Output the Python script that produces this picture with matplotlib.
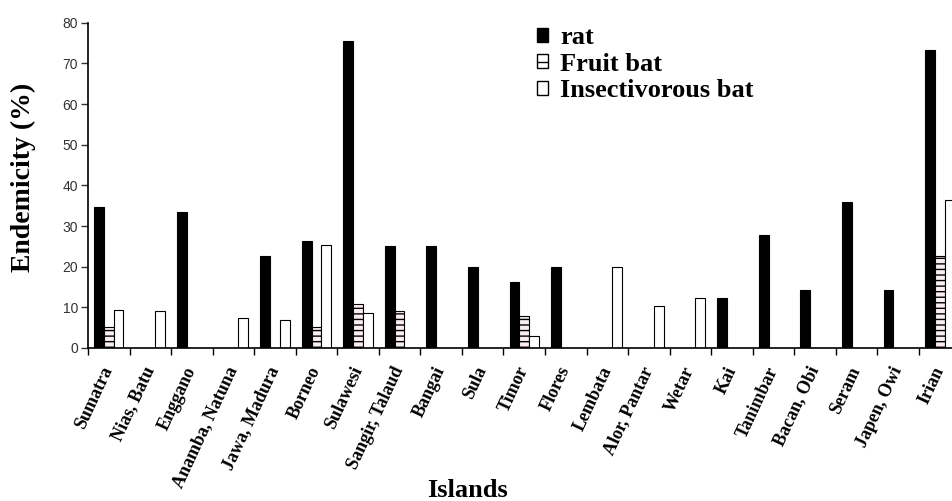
import numpy as np
import matplotlib.pyplot as plt
from matplotlib.patches import Patch

# data
islands = ['Sumatra', 'Nias, Batu', 'Enggano', 'Anamba, Natuna', 'Jawa, Madura',
           'Borneo', 'Sulawesi', 'Sangir, Talaud', 'Bangai', 'Sula', 'Timor',
           'Flores', 'Lembata', 'Alor, Pantar', 'Wetar', 'Kai', 'Tanimbar',
           'Bacan, Obi', 'Seram', 'Japen, Owi', 'Irian']
rat = [34.7, 0, 33.5, 0, 22.7, 26.2, 75.4, 25.2, 25.2, 19.8, 16.3,
       19.8, 0, 0, 0, 12.4, 27.9, 14.2, 36.0, 14.2, 73.2]
fruit_bat = [5.1, 0, 0, 0, 0, 5.1, 10.7, 9.0, 0, 0, 7.8,
             0, 0, 0, 0, 0, 0, 0, 0, 0, 22.7]
insect_bat = [9.4, 9.0, 0, 7.3, 6.8, 25.3, 8.6, 0, 0, 0, 3.0,
              0, 19.8, 10.3, 12.4, 0, 0, 0, 0, 0, 36.4]

serif = 'Liberation Serif'

fig = plt.figure(figsize=(9.52, 5.01), dpi=100)
ax = fig.add_axes([0.0924, 0.3054, 0.9165, 0.6493])

x = np.arange(len(islands))
w = 0.235
ax.bar(x - w, rat, w, color='black', edgecolor='black', linewidth=0.8)
ax.bar(x, fruit_bat, w, color='#fbeef2', edgecolor='black', linewidth=0.8, hatch='---')
ax.bar(x + w, insect_bat, w, color='white', edgecolor='black', linewidth=0.8)

ax.set_xlim(-0.5, len(islands) - 0.5)
ax.set_ylim(0, 80)
ax.set_yticks(np.arange(0, 81, 10))
ax.tick_params(axis='y', labelsize=10, length=5, width=1, pad=2, colors='#333333')
for lab in ax.get_yticklabels():
    lab.set_family('Liberation Sans')

ax.set_xticks(x)
ax.set_xticklabels(islands, rotation=65, ha='right', va='center', rotation_mode='anchor',
                   fontfamily=serif, fontweight='bold', fontsize=13)
ax.tick_params(axis='x', which='major', length=0, pad=14)
ax.set_xticks(np.arange(-0.5, len(islands), 1), minor=True)
ax.tick_params(axis='x', which='minor', length=5, width=1)

for s in ['top', 'right']:
    ax.spines[s].set_visible(False)
for s in ['left', 'bottom']:
    ax.spines[s].set_linewidth(1.2)

fig.text(0.025, 1 - 177 / 501, 'Endemicity (%)', rotation=90, ha='center', va='center',
         fontfamily=serif, fontweight='bold', fontsize=20)
fig.text(468 / 952, 0.008, 'Islands', fontfamily=serif, fontweight='bold', fontsize=19,
         ha='center', va='baseline')

handles = [Patch(facecolor='black', edgecolor='black'),
           Patch(facecolor='white', edgecolor='black', hatch='--'),
           Patch(facecolor='white', edgecolor='black')]
fig.legend(handles, ['rat', 'Fruit bat', 'Insectivorous bat'], loc='upper left',
           bbox_to_anchor=(537 / 952, 1 - 26 / 501), frameon=False, borderpad=0,
           borderaxespad=0, handlelength=0.42, handleheight=0.45,
           handletextpad=0.45, labelspacing=0.14,
           prop={'family': serif, 'weight': 'bold', 'size': 19})

fig.savefig('out.png', dpi=100)
